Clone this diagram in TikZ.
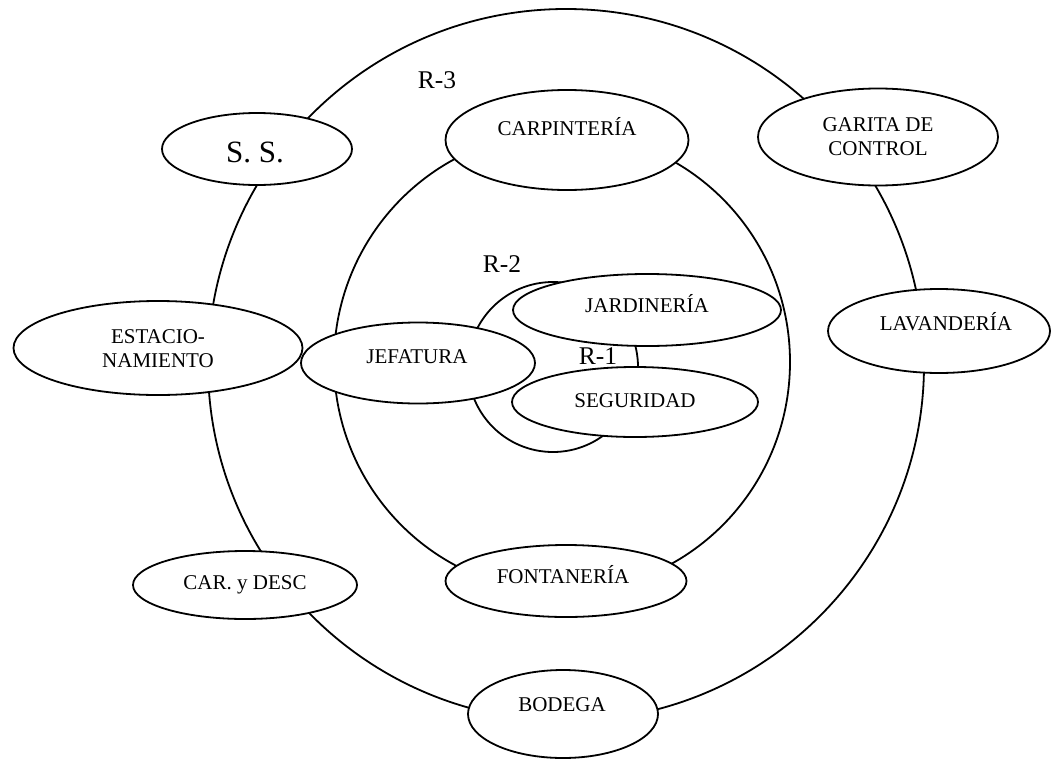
\documentclass[tikz,border=0pt]{standalone}
\usepackage{fontspec}
\setmainfont{Liberation Serif}
\usetikzlibrary{shapes.geometric}
\begin{document}
\begin{tikzpicture}[x=1pt,y=-1pt,
  ring/.style={draw=black,line width=1.8pt},
  room/.style={ellipse,draw=black,fill=white,line width=1.8pt,inner sep=0pt},
  txt/.style={anchor=base,inner sep=0pt,font=\fontsize{21}{24}\selectfont,align=center},
  rlab/.style={anchor=base,inner sep=0pt,font=\fontsize{25.5}{28}\selectfont}]
\useasboundingbox (0,0) rectangle (1051,760);
% zone rings
\draw[ring] (566,365) ellipse [x radius=358, y radius=356];
\draw[ring] (562,362) ellipse [x radius=228, y radius=230];
\draw[ring] (553,367) circle [radius=85];
% labels of the rings
\node[rlab] (r3) at (437,88) {R-3};
\node[rlab] (r2) at (502,272) {R-2};
\node[rlab] (r1) at (598,364) {R-1};
% rooms (ellipses)
\node[room,minimum width=190,minimum height=72] (ss) at (257,149) {};
\node[room,minimum width=243,minimum height=100] (carp) at (567,140) {};
\node[room,minimum width=240,minimum height=97] (gar) at (878,137) {};
\node[room,minimum width=222,minimum height=84] (lav) at (939,331) {};
\node[room,minimum width=289,minimum height=94] (est) at (158,348) {};
\node[room,minimum width=234,minimum height=81] (jef) at (418,363) {};
\node[room,minimum width=268,minimum height=72] (jar) at (647,310) {};
\node[room,minimum width=246,minimum height=70] (seg) at (635,402) {};
\node[room,minimum width=224,minimum height=68] (car) at (245,585) {};
\node[room,minimum width=241,minimum height=72] (fon) at (566,581) {};
\node[room,minimum width=190,minimum height=88] (bod) at (563,714) {};
% room names
\node[anchor=base,inner sep=0pt,font=\fontsize{31}{34}\selectfont] (tss) at (255,162) {S. S.};
\node[txt] (tcarp) at (567,135) {CARPINTERÍA};
\node[txt] (tgar1) at (878,131) {GARITA DE};
\node[txt] (tgar2) at (878,155) {CONTROL};
\node[txt] (tlav) at (946,330) {LAVANDERÍA};
\node[txt] (test1) at (158,343) {ESTACIO-};
\node[txt] (test2) at (158,367) {NAMIENTO};
\node[txt] (tjef) at (417,363) {JEFATURA};
\node[txt] (tjar) at (647,312) {JARDINERÍA};
\node[txt] (tseg) at (635,407) {SEGURIDAD};
\node[txt] (tcar) at (245,589) {CAR. y DESC};
\node[txt] (tfon) at (563,583) {FONTANERÍA};
\node[txt] (tbod) at (562,711) {BODEGA};
\end{tikzpicture}
\end{document}
